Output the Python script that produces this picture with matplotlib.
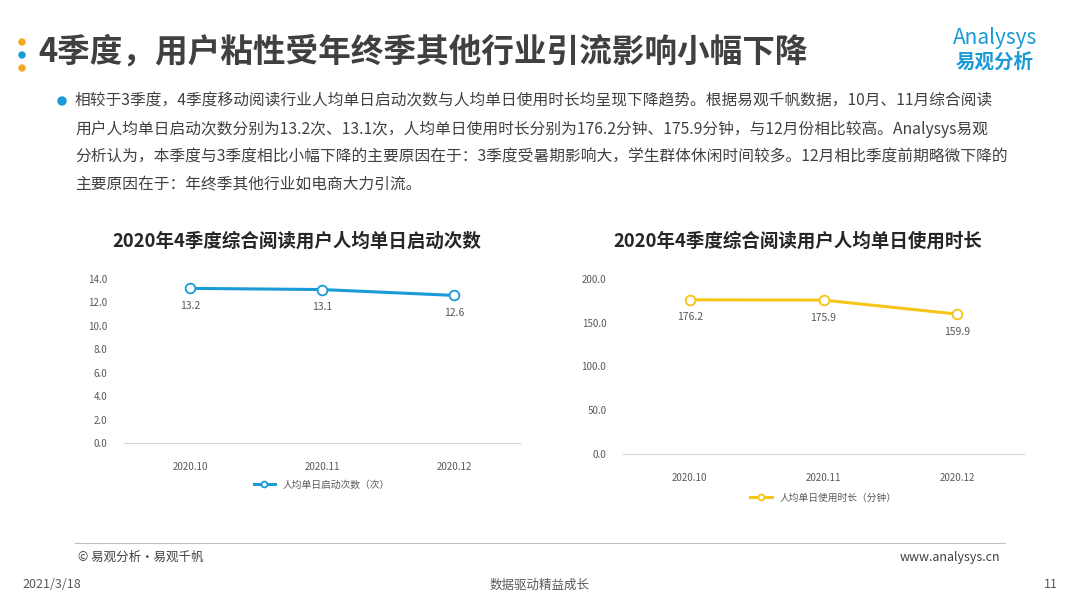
import matplotlib
matplotlib.use("Agg")
import matplotlib.pyplot as plt
from matplotlib.patches import Ellipse

plt.rcParams['font.family'] = ['Noto Sans CJK SC', 'DejaVu Sans']

months = ['2020.10', '2020.11', '2020.12']
launches = [13.2, 13.1, 12.6]
minutes = [176.2, 175.9, 159.9]
left_ticks = [0, 2, 4, 6, 8, 10, 12, 14]
right_ticks = [0, 50, 100, 150, 200]

blue = '#1a9ad6'
yellow = '#f5c518'
grey = '#595959'

W, H = 1080, 608
fig = plt.figure(figsize=(W / 100, H / 100), dpi=100)


def px(x, y):
    return x / W, 1 - y / H


def text(x, y, s, **kw):
    fig.text(*px(x, y), s, **kw)


def dot(x, y, r, c):
    fig.patches.append(Ellipse(px(x, y), 2 * r / W, 2 * r / H,
                               transform=fig.transFigure, color=c))


# header
for yy, c in [(42, '#f5a623'), (55, blue), (68, '#f5a623')]:
    dot(22, yy, 3, c)
text(38, 52, '4季度，用户粘性受年终季其他行业引流影响小幅下降', fontsize=23.5,
     color='#404040', va='center', fontweight='bold')
text(995, 38, 'Analysys', fontsize=15, color=blue, ha='center', va='center',
     fontstyle='italic')
text(995, 62, '易观分析', fontsize=14, color=blue, ha='center', va='center',
     fontweight='bold')

dot(62, 101, 4, blue)
body = ['相较于3季度，4季度移动阅读行业人均单日启动次数与人均单日使用时长均呈现下降趋势。根据易观千帆数据，10月、11月综合阅读',
        '用户人均单日启动次数分别为13.2次、13.1次，人均单日使用时长分别为176.2分钟、175.9分钟，与12月份相比较高。Analysys易观',
        '分析认为，本季度与3季度相比小幅下降的主要原因在于：3季度受暑期影响大，学生群体休闲时间较多。12月相比季度前期略微下降的',
        '主要原因在于：年终季其他行业如电商大力引流。']
for i, line in enumerate(body):
    text(75, 101 + i * 28, line, fontsize=11.3, color='#404040', va='center')

text(297, 241, '2020年4季度综合阅读用户人均单日启动次数', fontsize=13.3,
     fontweight='bold', color='#262626', ha='center', va='center')
text(798, 241, '2020年4季度综合阅读用户人均单日使用时长', fontsize=13.3,
     fontweight='bold', color='#262626', ha='center', va='center')


def panel(rect, vals, ticks, color, label):
    ax = fig.add_axes(rect)
    x = range(len(months))
    ax.plot(x, vals, color=color, lw=2.2, marker='o', ms=7,
            markerfacecolor='white', markeredgecolor=color, mew=1.3)
    for i, v in enumerate(vals):
        ax.annotate(f'{v:.1f}', (i, v), textcoords='offset points',
                    xytext=(0, -9), ha='center', va='top', fontsize=7.5,
                    color=grey)
    ax.set_xlim(-0.5, len(months) - 0.5)
    ax.set_ylim(ticks[0], ticks[-1])
    ax.set_yticks(ticks)
    ax.set_yticklabels([f'{t:.1f}' for t in ticks], fontsize=7, color=grey)
    ax.set_xticks(list(x))
    ax.set_xticklabels(months, fontsize=7, color=grey)
    ax.tick_params(length=0, pad=14)
    ax.tick_params(axis='y', pad=12)
    for s in ['top', 'right', 'left']:
        ax.spines[s].set_visible(False)
    ax.spines['bottom'].set_color('#d9d9d9')
    ax.patch.set_alpha(0)
    leg = ax.legend([ax.lines[0]], [label], loc='upper center',
                    bbox_to_anchor=(0.5, -0.17), frameon=False, fontsize=7,
                    handlelength=2.2, markerscale=0.6)
    for t in leg.get_texts():
        t.set_color(grey)
    return ax


panel([124 / W, 1 - 443 / H, 396 / W, 164 / H], launches, left_ticks, blue,
      '人均单日启动次数（次）')
panel([623 / W, 1 - 454 / H, 401 / W, 175 / H], minutes, right_ticks, yellow,
      '人均单日使用时长（分钟）')

# footer
fig.add_artist(plt.Line2D([75 / W, 1005 / W], [1 - 543 / H] * 2,
                          color='#bfbfbf', lw=0.8))
text(78, 557, '© 易观分析·易观千帆', fontsize=9, color='#404040', va='center')
text(1000, 557, 'www.analysys.cn', fontsize=9, color='#404040', va='center',
     ha='right')
text(22, 585, '2021/3/18', fontsize=9, color='#595959', va='center')
text(540, 585, '数据驱动精益成长', fontsize=9, color='#595959', va='center',
     ha='center')
text(1058, 585, '11', fontsize=9, color='#595959', va='center', ha='right')

fig.savefig('out.png', dpi=100)
